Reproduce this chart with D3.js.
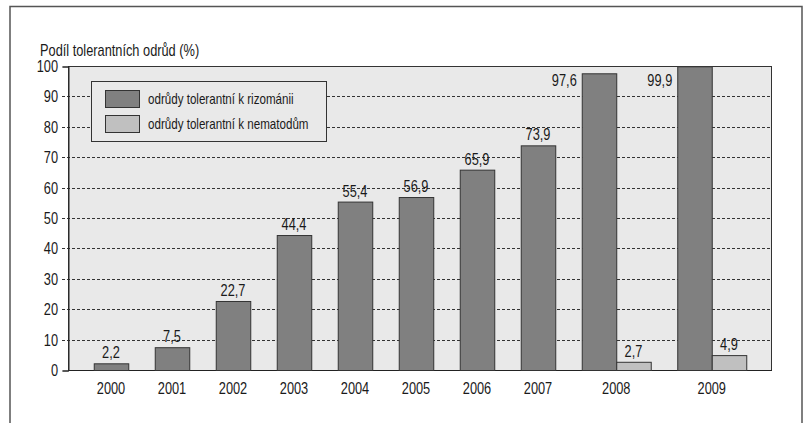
<!DOCTYPE html>
<html>
<head>
<meta charset="utf-8">
<script src="https://cdn.jsdelivr.net/npm/d3@7"></script>
<style>
  html, body { margin: 0; padding: 0; background: #fff; }
  svg text { font-family: "Liberation Sans", Arial, sans-serif; fill: #1a1a1a; }
</style>
</head>
<body>
<svg id="chart" width="809" height="423"></svg>
<script>
// Share of sugar beet varieties tolerant to rhizomania / nematodes, 2000–2009
const years = ["2000", "2001", "2002", "2003", "2004", "2005", "2006", "2007", "2008", "2009"];
const rizomanie = [2.2, 7.5, 22.7, 44.4, 55.4, 56.9, 65.9, 73.9, 97.6, 99.9];
const nematody = [null, null, null, null, null, null, null, null, 2.7, 4.9];
const seriesNames = ["odrůdy tolerantní k rizománii", "odrůdy tolerantní k nematodům"];
const yTicks = [0, 10, 20, 30, 40, 50, 60, 70, 80, 90, 100];
const yTitle = "Podíl tolerantních odrůd (%)";

const colors = ["#808080", "#c0c0c0"];
const series = [rizomanie, nematody];

const svg = d3.select("#chart");
const plot = { left: 68, right: 772, top: 66, bottom: 370 };
const FS = 16;          // font size
const NARROW = 0.8;     // horizontal squeeze for a condensed look

const fmt = d3.formatLocale({ decimal: ",", thousands: " ", grouping: [3], currency: ["", ""] }).format(".1f");

// condensed text: a group positioned at the anchor point, squeezed horizontally
function label(parent, x, y, str, anchor = "start", size = FS) {
  const g = parent.append("g").attr("transform", `translate(${x},${y}) scale(${NARROW},1)`);
  g.append("text").attr("text-anchor", anchor).attr("font-size", size).text(str);
  return g;
}

// outer frame
svg.append("rect")
  .attr("x", 10).attr("y", 6.5).attr("width", 792).attr("height", 440)
  .attr("fill", "none").attr("stroke", "#555").attr("stroke-width", 1.5);

const y = d3.scaleLinear().domain([0, 100]).range([plot.bottom, plot.top]);

// each year gets as many bar slots as it has values, plus a fixed gap
const gapRatio = 0.768;
const counts = years.map((_, i) => series.filter(s => s[i] != null).length);
const widths = counts.map(n => n + gapRatio);
const starts = [0, ...d3.cumsum(widths)].slice(0, years.length);
const totalUnits = d3.sum(widths);
const x = d3.scaleLinear().domain([0, totalUnits]).range([plot.left + 12.5, plot.right - 12.5]);

// plot background
svg.append("rect")
  .attr("x", plot.left).attr("y", plot.top)
  .attr("width", plot.right - plot.left).attr("height", plot.bottom - plot.top)
  .attr("fill", "#e9e9e9");

// grid lines
svg.append("g").selectAll("line").data(yTicks.filter(t => t > 0 && t < 100)).join("line")
  .attr("x1", plot.left - 6).attr("x2", plot.right)
  .attr("y1", d => Math.round(y(d)) + 0.5).attr("y2", d => Math.round(y(d)) + 0.5)
  .attr("stroke", "#333").attr("stroke-width", 1).attr("stroke-dasharray", "3,2");

// frame of the plot area
svg.append("rect")
  .attr("x", plot.left + 0.5).attr("y", plot.top + 0.5)
  .attr("width", plot.right - plot.left - 1).attr("height", plot.bottom - plot.top)
  .attr("fill", "none").attr("stroke", "#333").attr("stroke-width", 1);

// y axis (ticks from the scale, labels condensed)
const yAxis = d3.axisLeft(y).tickValues(yTicks).tickSize(6).tickFormat("");
const gy = svg.append("g").attr("transform", `translate(${plot.left + 0.5},0.5)`).call(yAxis);
gy.select(".domain").attr("stroke", "#222");
gy.selectAll(".tick line").attr("stroke", d => (d === 0 || d === 100) ? "#222" : "none");
const tickLabels = svg.append("g");
yTicks.forEach(t => label(tickLabels, plot.left - 10, y(t) + 6, d3.format("d")(t), "end"));

// bottom axis line
svg.append("line")
  .attr("x1", plot.left).attr("x2", plot.right)
  .attr("y1", plot.bottom + 0.5).attr("y2", plot.bottom + 0.5)
  .attr("stroke", "#222").attr("stroke-width", 1.2);

// bars
const bars = [];
years.forEach((yr, i) => {
  let slot = 0;
  series.forEach((s, k) => {
    const v = s[i];
    if (v == null) return;
    const u0 = starts[i] + gapRatio / 2 + slot;
    bars.push({ year: yr, k, v, x0: x(u0), x1: x(u0 + 1) });
    slot++;
  });
});

svg.append("g").selectAll("rect").data(bars).join("rect")
  .attr("x", d => d.x0 + 0.5)
  .attr("y", d => y(d.v) + 0.5)
  .attr("width", d => d.x1 - d.x0)
  .attr("height", d => y(0) - y(d.v))
  .attr("fill", d => colors[d.k])
  .attr("stroke", "#333").attr("stroke-width", 1);

// value labels: above the bar, or beside it when the bar nearly reaches the top
const valueLabels = svg.append("g");
bars.forEach(d => {
  if (d.v > 90) label(valueLabels, d.x0 - 5, y(94) + 1.5, fmt(d.v), "end");
  else label(valueLabels, (d.x0 + d.x1) / 2, y(d.v) - 5, fmt(d.v), "middle");
});

// year labels
const yearLabels = svg.append("g");
years.forEach((yr, i) => label(yearLabels, x(starts[i] + widths[i] / 2), 394, yr, "middle"));

// axis title
label(svg, 40, 56, yTitle);

// legend
const lg = svg.append("g");
lg.append("rect")
  .attr("x", 91.5).attr("y", 81.5).attr("width", 235).attr("height", 60)
  .attr("fill", "#e9e9e9").attr("stroke", "#333").attr("stroke-width", 1);
seriesNames.forEach((name, k) => {
  const yy = 90 + k * 25;
  lg.append("rect")
    .attr("x", 105.5).attr("y", yy + 0.5).attr("width", 34).attr("height", 17)
    .attr("fill", colors[k]).attr("stroke", "#333").attr("stroke-width", 1);
  label(lg, 148, yy + 14, name, "start", 14.5);
});
</script>
</body>
</html>
